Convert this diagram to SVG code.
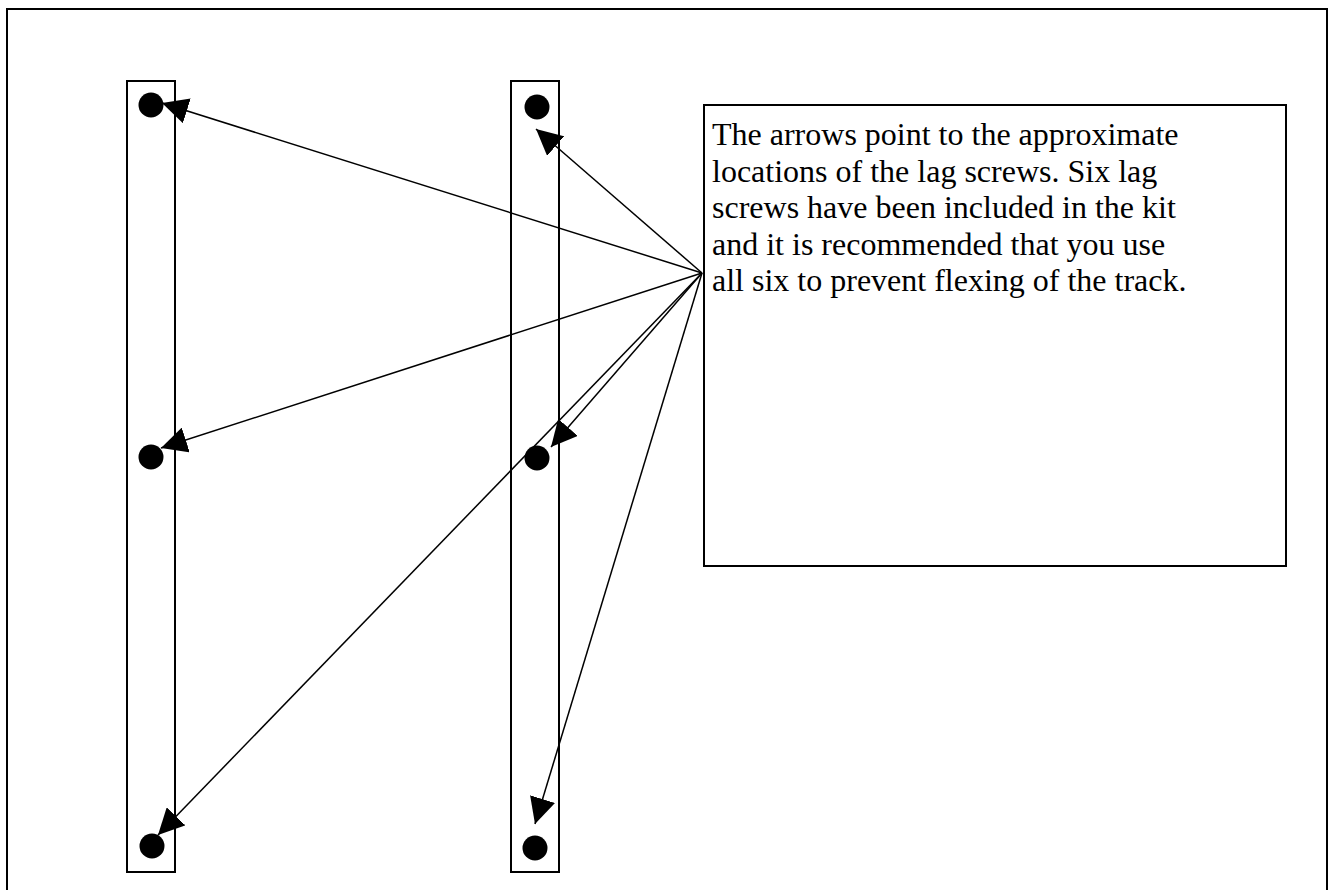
<svg xmlns="http://www.w3.org/2000/svg" width="1330" height="890" viewBox="0 0 1330 890">
<style>
.box{fill:none;stroke:#000;stroke-width:2}
.dot{fill:#000}
.conn{stroke:#000;stroke-width:1.5;fill:none;marker-end:url(#ah)}
.txt{font-family:"Liberation Serif","Times New Roman",serif;font-size:32px;fill:#000}
</style>
<defs>
<marker id="ah" markerUnits="userSpaceOnUse" markerWidth="26" markerHeight="26" refX="26" refY="13" orient="auto">
<path d="M0,0 L26,13 L0,26 z" fill="#000"/>
</marker>
</defs>
<rect x="0" y="0" width="1330" height="890" fill="#fff"/>
<rect id="frame" class="box" x="7" y="9" width="1320" height="890"/>
<g id="left-bar">
<rect class="box" x="127" y="81" width="48" height="791"/>
</g>
<g id="middle-bar">
<rect class="box" x="511" y="81" width="48" height="791"/>
</g>
<g id="screw-l1"><circle class="dot" cx="151" cy="105" r="12.5"/></g>
<g id="screw-l2"><circle class="dot" cx="151" cy="457" r="12.5"/></g>
<g id="screw-l3"><circle class="dot" cx="152" cy="846" r="12.5"/></g>
<g id="screw-m1"><circle class="dot" cx="537" cy="107" r="12.5"/></g>
<g id="screw-m2"><circle class="dot" cx="537" cy="458" r="12.5"/></g>
<g id="screw-m3"><circle class="dot" cx="535" cy="848" r="12.5"/></g>
<g id="note">
<rect class="box" x="704" y="105" width="582" height="461"/>
<text class="txt" x="712" y="145">The arrows point to the approximate</text>
<text class="txt" x="712" y="181.5">locations of the lag screws. Six lag</text>
<text class="txt" x="712" y="218">screws have been included in the kit</text>
<text class="txt" x="712" y="254.5">and it is recommended that you use</text>
<text class="txt" x="712" y="291">all six to prevent flexing of the track.</text>
</g>
<g id="connectors">
<line class="conn" x1="702" y1="273" x2="162" y2="103"/>
<line class="conn" x1="702" y1="273" x2="536" y2="129"/>
<line class="conn" x1="702" y1="273" x2="161" y2="448"/>
<line class="conn" x1="702" y1="273" x2="551" y2="447"/>
<line class="conn" x1="702" y1="273" x2="158" y2="835"/>
<line class="conn" x1="702" y1="273" x2="535" y2="824"/>
</g>
</svg>
